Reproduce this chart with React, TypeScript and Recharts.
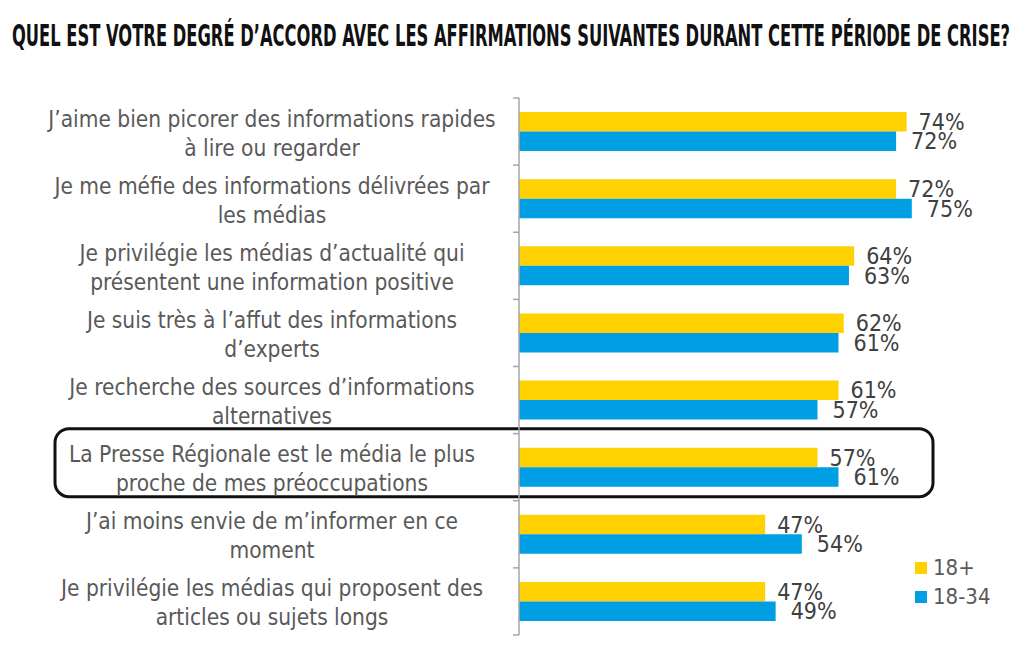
import { BarChart, Bar, XAxis, YAxis, LabelList, Legend, ReferenceArea } from 'recharts';

const categories = [
  'J’aime bien picorer des informations rapides\nà lire ou regarder',
  'Je me méfie des informations délivrées par\nles médias',
  'Je privilégie les médias d’actualité qui\nprésentent une information positive',
  'Je suis très à l’affut des informations\nd’experts',
  'Je recherche des sources d’informations\nalternatives',
  'La Presse Régionale est le média le plus\nproche de mes préoccupations',
  'J’ai moins envie de m’informer en ce\nmoment',
  'Je privilégie les médias qui proposent des\narticles ou sujets longs',
];
const all18 = [74, 72, 64, 62, 61, 57, 47, 47];
const young = [72, 75, 63, 61, 57, 61, 54, 49];
const highlighted = categories[5];

const data = categories.map((label, i) => ({ label, all18: all18[i], young: young[i] }));

const FONT = "'Liberation Sans Narrow', 'DejaVu Sans Condensed', 'Roboto', sans-serif";
const W = 1024;
const H = 648;
const MARGIN = { top: 98, right: 86, bottom: 13, left: 0 };
const AXIS_W = 519;
const BAND = (H - MARGIN.top - MARGIN.bottom) / categories.length;

function CategoryTick(props: any) {
  const { x, y, payload, index } = props;
  const lines = String(payload.value).split('\n');
  const last = index === categories.length - 1;
  return (
    <g>
      <line x1={x - 6} x2={x} y1={y - BAND / 2} y2={y - BAND / 2} stroke="#a6a6a6" strokeWidth={1.5} />
      {last && <line x1={x - 6} x2={x} y1={y + BAND / 2} y2={y + BAND / 2} stroke="#a6a6a6" strokeWidth={1.5} />}
      <text x={x - 247} y={y - 5} textAnchor="middle" fill="#595959" fontSize={22.5} fontFamily={FONT}>
        {lines.map((l, i) => (
          <tspan key={i} x={x - 247} dy={i === 0 ? 0 : 29}>
            {l}
          </tspan>
        ))}
      </text>
    </g>
  );
}

function HighlightBox(props: any) {
  const { x, y, width, height } = props;
  return (
    <rect
      x={x - 464}
      y={y - 5}
      width={width + 459}
      height={height + 1}
      rx={14}
      ry={14}
      fill="none"
      stroke="#111"
      strokeWidth={3}
    />
  );
}

function LegendContent(props: any) {
  const { payload } = props;
  return (
    <div style={{ fontFamily: FONT }}>
      {payload.map((p: any) => (
        <div key={p.value} style={{ display: 'flex', alignItems: 'center', height: 29 }}>
          <span style={{ width: 12, height: 12, background: p.color, marginRight: 6 }} />
          <span style={{ fontSize: 22, color: '#595959' }}>{p.value}</span>
        </div>
      ))}
    </div>
  );
}

const pct = (v: any) => `${v}%`;

export default function App() {
  return (
    <div style={{ position: 'absolute', left: 0, top: 0, width: W, height: H, background: '#fff' }}>
      <svg width={W} height={60} style={{ position: 'absolute', left: 0, top: 0 }}>
        <text
          x={12}
          y={46}
          textLength={998}
          lengthAdjust="spacingAndGlyphs"
          fontFamily={FONT}
          fontWeight="bold"
          fontSize={31}
          fill="#111"
        >
          QUEL EST VOTRE DEGRÉ D’ACCORD AVEC LES AFFIRMATIONS SUIVANTES DURANT CETTE PÉRIODE DE CRISE?
        </text>
      </svg>
      <BarChart
        width={W}
        height={H}
        data={data}
        layout="vertical"
        margin={MARGIN}
        barGap={0}
        style={{ position: 'absolute', left: 0, top: 0 }}
      >
        <XAxis type="number" domain={[0, 80]} hide />
        <YAxis
          type="category"
          dataKey="label"
          width={AXIS_W}
          tickSize={0}
          tickMargin={0}
          tickLine={false}
          axisLine={{ stroke: '#a6a6a6', strokeWidth: 1.5 }}
          tick={<CategoryTick />}
          interval={0}
        />
        <Legend
          layout="vertical"
          align="center"
          verticalAlign="middle"
          content={<LegendContent />}
          wrapperStyle={{ left: 915, top: 553, width: 100 }}
        />
        <Bar dataKey="all18" name="18+" fill="#FFD100" barSize={19.5} isAnimationActive={false}>
          <LabelList dataKey="all18" position="right" offset={12} formatter={pct} fill="#404040" fontSize={23} fontFamily={FONT} />
        </Bar>
        <Bar dataKey="young" name="18-34" fill="#009FE3" barSize={19.5} isAnimationActive={false}>
          <LabelList dataKey="young" position="right" offset={15} formatter={pct} fill="#404040" fontSize={23} fontFamily={FONT} />
        </Bar>
        <ReferenceArea y1={highlighted} y2={highlighted} x1={0} x2={80} shape={<HighlightBox />} />
      </BarChart>
    </div>
  );
}
